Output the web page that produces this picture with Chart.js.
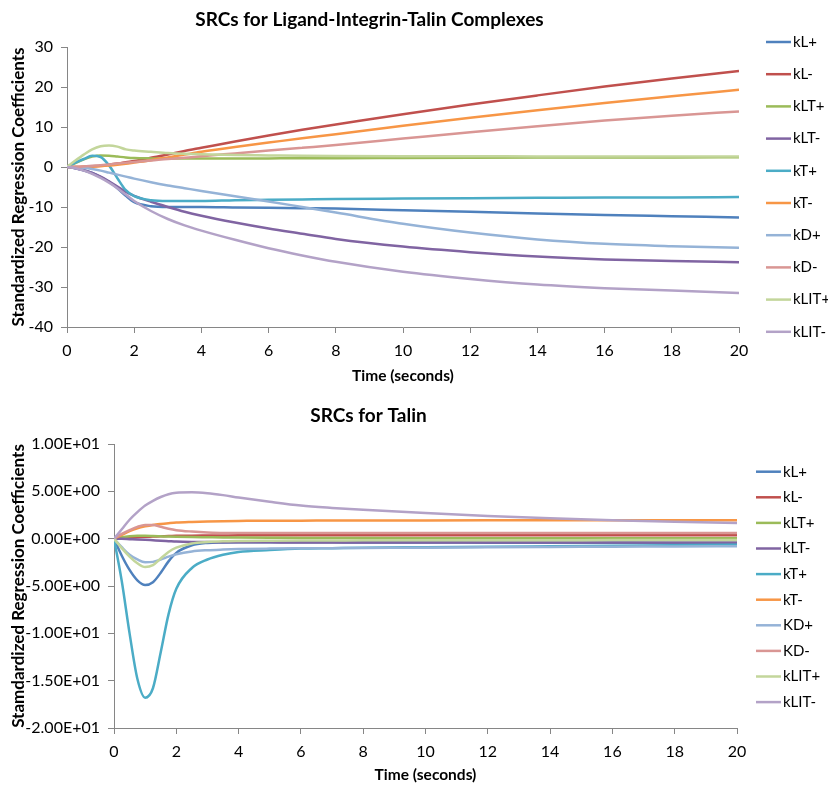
<!DOCTYPE html>
<html>
<head>
<meta charset="utf-8">
<title>SRCs</title>
<script src="https://cdn.jsdelivr.net/npm/chart.js@4.4.1/dist/chart.umd.min.js"></script>
<style>
  body { margin: 0; background: #fff; }
  .caja { position: absolute; left: 0; width: 828px; }
</style>
</head>
<body>
<div class="caja" style="top:0;height:395px"><canvas id="graficaComplejos" width="828" height="395"></canvas></div>
<div class="caja" style="top:395px;height:390px"><canvas id="graficaTalin" width="828" height="390"></canvas></div>
<script>
// tiempos de muestreo (segundos)
const tiempos = [0, 0.25, 0.5, 0.75, 1, 1.25, 1.5, 1.75, 2, 2.5, 3, 3.5, 4, 5, 6, 7, 8, 10, 12, 14, 16, 18, 20];

// Grafica 1: complejos ligando-integrina-talina
const nombresComplejos = ["kL+", "kL-", "kLT+", "kLT-", "kT+", "kT-", "kD+", "kD-", "kLIT+", "kLIT-"];
const cKLmas   = [0, -0.3, -0.8, -1.5, -2.5, -3.7, -5.3, -7.2, -8.8, -9.8, -10.0, -10.0, -10.0, -10.1, -10.2, -10.3, -10.4, -10.8, -11.2, -11.6, -12.0, -12.3, -12.6];
const cKLmenos = [0, 0, 0.05, 0.15, 0.3, 0.55, 0.85, 1.2, 1.5, 2.3, 3.1, 4.0, 4.8, 6.4, 7.9, 9.3, 10.6, 13.2, 15.6, 17.9, 20.1, 22.1, 24.0];
const cKLTmas  = [0, 1.0, 1.9, 2.6, 2.9, 2.8, 2.6, 2.4, 2.25, 2.15, 2.1, 2.1, 2.1, 2.1, 2.15, 2.2, 2.2, 2.25, 2.3, 2.35, 2.4, 2.4, 2.45];
const cKLTmenos = [0, -0.3, -0.8, -1.5, -2.4, -3.6, -4.9, -6.2, -7.2, -8.7, -10.0, -11.2, -12.2, -13.9, -15.4, -16.7, -18.0, -19.9, -21.3, -22.4, -23.1, -23.5, -23.8];
const cKTmas   = [0, 1.1, 2.0, 2.8, 2.5, 0.4, -2.8, -5.8, -7.3, -8.3, -8.5, -8.5, -8.5, -8.3, -8.2, -8.1, -8.0, -7.9, -7.8, -7.7, -7.6, -7.6, -7.5];
const cKTmenos = [0, 0, 0.05, 0.1, 0.2, 0.35, 0.55, 0.8, 1.1, 1.7, 2.4, 3.1, 3.8, 5.0, 6.1, 7.2, 8.2, 10.3, 12.3, 14.2, 16.0, 17.7, 19.3];
const cKDmas   = [0, -0.05, -0.2, -0.5, -0.9, -1.4, -1.9, -2.4, -2.9, -3.8, -4.6, -5.3, -6.0, -7.3, -8.6, -10.0, -11.4, -14.2, -16.4, -18.1, -19.2, -19.8, -20.2];
const cKDmenos = [0, 0.05, 0.15, 0.3, 0.45, 0.65, 0.85, 1.05, 1.25, 1.6, 2.0, 2.3, 2.7, 3.4, 4.1, 4.8, 5.5, 7.1, 8.7, 10.2, 11.6, 12.8, 13.9];
const cKLITmas = [0, 1.6, 3.1, 4.4, 5.2, 5.4, 5.1, 4.4, 4.1, 3.8, 3.5, 3.3, 3.2, 3.0, 2.9, 2.8, 2.75, 2.7, 2.7, 2.65, 2.65, 2.6, 2.6];
const cKLITmenos = [0, -0.3, -0.9, -1.7, -2.7, -3.9, -5.3, -6.9, -8.5, -11.0, -13.0, -14.6, -15.9, -18.2, -20.3, -22.1, -23.7, -26.2, -28.0, -29.4, -30.3, -30.9, -31.5];
const ticksComplejos = [-40, -30, -20, -10, 0, 10, 20, 30];

// Grafica 2: talina
const nombresTalin = ["kL+", "kL-", "kLT+", "kLT-", "kT+", "kT-", "KD+", "KD-", "kLIT+", "kLIT-"];
const tKLmas   = [0, -1.8, -3.3, -4.4, -4.9, -4.6, -3.6, -2.4, -1.5, -0.7, -0.45, -0.4, -0.38, -0.38, -0.38, -0.39, -0.4, -0.4, -0.42, -0.43, -0.44, -0.45, -0.45];
const tKLmenos = [0, 0.05, 0.1, 0.15, 0.2, 0.22, 0.25, 0.27, 0.3, 0.32, 0.33, 0.34, 0.35, 0.35, 0.35, 0.35, 0.35, 0.35, 0.35, 0.35, 0.35, 0.35, 0.35];
const tKLTmas  = [0, 0.15, 0.25, 0.3, 0.3, 0.28, 0.25, 0.22, 0.2, 0.17, 0.15, 0.13, 0.12, 0.1, 0.08, 0.07, 0.06, 0.05, 0.05, 0.05, 0.05, 0.05, 0.05];
const tKLTmenos = [0, -0.02, -0.05, -0.08, -0.12, -0.17, -0.22, -0.26, -0.3, -0.34, -0.36, -0.37, -0.38, -0.39, -0.4, -0.4, -0.4, -0.4, -0.4, -0.4, -0.4, -0.4, -0.4];
const tKTmas   = [0, -4.5, -10.0, -14.8, -16.8, -15.8, -12.0, -8.0, -5.3, -3.1, -2.2, -1.7, -1.4, -1.2, -1.05, -1.0, -0.95, -0.9, -0.85, -0.8, -0.75, -0.7, -0.65];
const tKTmenos = [0, 0.4, 0.8, 1.1, 1.3, 1.45, 1.55, 1.63, 1.7, 1.77, 1.82, 1.85, 1.87, 1.9, 1.9, 1.92, 1.92, 1.93, 1.94, 1.95, 1.95, 1.95, 1.95];
const tKDmas   = [0, -0.9, -1.7, -2.2, -2.5, -2.45, -2.2, -1.9, -1.65, -1.35, -1.22, -1.15, -1.1, -1.05, -1.02, -1.0, -0.98, -0.95, -0.9, -0.87, -0.85, -0.82, -0.8];
const tKDmenos = [0, 0.5, 0.9, 1.25, 1.45, 1.45, 1.25, 1.05, 0.9, 0.75, 0.65, 0.6, 0.6, 0.6, 0.6, 0.6, 0.6, 0.6, 0.6, 0.6, 0.6, 0.6, 0.6];
const tKLITmas = [0, -1.0, -1.9, -2.6, -3.0, -2.8, -2.1, -1.4, -0.95, -0.5, -0.35, -0.28, -0.25, -0.22, -0.2, -0.19, -0.18, -0.17, -0.16, -0.16, -0.15, -0.15, -0.15];
const tKLITmenos = [0, 1.0, 2.0, 2.8, 3.5, 4.0, 4.4, 4.7, 4.85, 4.9, 4.8, 4.6, 4.35, 3.9, 3.5, 3.25, 3.05, 2.7, 2.4, 2.15, 1.95, 1.8, 1.65];
const ticksTalin = [-20, -15, -10, -5, 0, 5, 10];

const ticksTiempo = [0, 2, 4, 6, 8, 10, 12, 14, 16, 18, 20];

// colores tipo Excel
const colores = ['#4F81BD', '#C0504D', '#9BBB59', '#8064A2', '#4BACC6', '#F79646', '#95B3D7', '#D99694', '#C3D69B', '#B3A2C7'];

Chart.defaults.font.family = 'Lato';
Chart.defaults.color = '#000';

// "1.00E+01" como en Excel
function formatoCientifico(v) {
  const partes = v.toExponential(2).split('e');
  const exp = parseInt(partes[1], 10);
  return partes[0] + 'E' + (exp < 0 ? '-' : '+') + String(Math.abs(exp)).padStart(2, '0');
}

// leyenda dibujada a mano (linea + texto)
const leyendaLineas = {
  id: 'leyendaLineas',
  afterDraw(chart, args, opts) {
    const ctx = chart.ctx;
    ctx.save();
    ctx.font = '15px Lato';
    ctx.textBaseline = 'middle';
    chart.data.datasets.forEach((ds, i) => {
      const y = opts.y + i * opts.paso;
      ctx.strokeStyle = ds.borderColor;
      ctx.lineWidth = 2.5;
      ctx.beginPath();
      ctx.moveTo(opts.x, y);
      ctx.lineTo(opts.x + 25, y);
      ctx.stroke();
      ctx.fillStyle = '#000';
      ctx.fillText(ds.label, opts.x + 27, y);
    });
    ctx.restore();
  }
};

function crearGrafica(id, titulo, tituloY, nombres, series, yTicks, formato, caja, leyenda) {
  const datasets = series.map((valores, i) => ({
    label: nombres[i],
    data: valores.map((v, j) => ({ x: tiempos[j], y: v })),
    borderColor: colores[i],
    borderWidth: 2.5,
    pointRadius: 0,
    fill: false,
    cubicInterpolationMode: 'monotone',
    order: series.length - i
  }));

  const ctx = document.getElementById(id).getContext('2d');
  new Chart(ctx, {
    type: 'line',
    data: { datasets },
    options: {
      responsive: false,
      animation: false,
      layout: { padding: { left: 0, right: 828 - caja.right, top: 0, bottom: 0 } },
      plugins: {
        legend: { display: false },
        tooltip: { enabled: false },
        title: {
          display: true,
          text: titulo,
          color: '#000',
          font: { size: 19, weight: 'bold' },
          padding: { top: caja.tituloArriba, bottom: caja.tituloAbajo }
        },
        leyendaLineas: leyenda
      },
      scales: {
        x: {
          type: 'linear',
          min: ticksTiempo[0],
          max: ticksTiempo[ticksTiempo.length - 1],
          afterBuildTicks: (s) => { s.ticks = ticksTiempo.map(v => ({ value: v })); },
          afterFit: (s) => { s.height = caja.alto - caja.bottom; },
          ticks: { font: { size: 16 }, padding: 8, maxRotation: 0 },
          grid: { drawOnChartArea: false, drawTicks: true, tickLength: 6, color: '#868686' },
          border: { color: '#868686' },
          title: {
            display: true,
            text: 'Time (seconds)',
            font: { size: 15.5, weight: 'bold' },
            padding: { top: 0, bottom: caja.ejeXAbajo }
          }
        },
        y: {
          min: yTicks[0],
          max: yTicks[yTicks.length - 1],
          afterBuildTicks: (s) => { s.ticks = yTicks.map(v => ({ value: v })); },
          afterFit: (s) => { s.width = caja.left; },
          ticks: { font: { size: 16 }, padding: 8, callback: formato },
          grid: { drawOnChartArea: false, drawTicks: true, tickLength: 6, color: '#868686' },
          border: { color: '#868686' },
          title: {
            display: true,
            text: tituloY,
            font: { size: 17, weight: 'bold' },
            padding: { top: 8, bottom: 0 }
          }
        }
      }
    },
    plugins: [leyendaLineas]
  });
}

crearGrafica(
  'graficaComplejos',
  'SRCs for Ligand-Integrin-Talin Complexes',
  'Standardized Regression Coefficients',
  nombresComplejos,
  [cKLmas, cKLmenos, cKLTmas, cKLTmenos, cKTmas, cKTmenos, cKDmas, cKDmenos, cKLITmas, cKLITmenos],
  ticksComplejos,
  (v) => v,
  { left: 67, right: 739, bottom: 327, alto: 395, tituloArriba: 8.6, tituloAbajo: 15.6, ejeXAbajo: 10 },
  { x: 766, y: 42, paso: 32.2 }
);

crearGrafica(
  'graficaTalin',
  'SRCs for Talin',
  'Stamdardized Regression Coefficients',
  nombresTalin,
  [tKLmas, tKLmenos, tKLTmas, tKLTmenos, tKTmas, tKTmenos, tKDmas, tKDmenos, tKLITmas, tKLITmenos],
  ticksTalin,
  formatoCientifico,
  { left: 114, right: 737, bottom: 333, alto: 390, tituloArriba: 9.6, tituloAbajo: 16.6, ejeXAbajo: 1 },
  { x: 756, y: 76.7, paso: 25.6 }
);
</script>
</body>
</html>
